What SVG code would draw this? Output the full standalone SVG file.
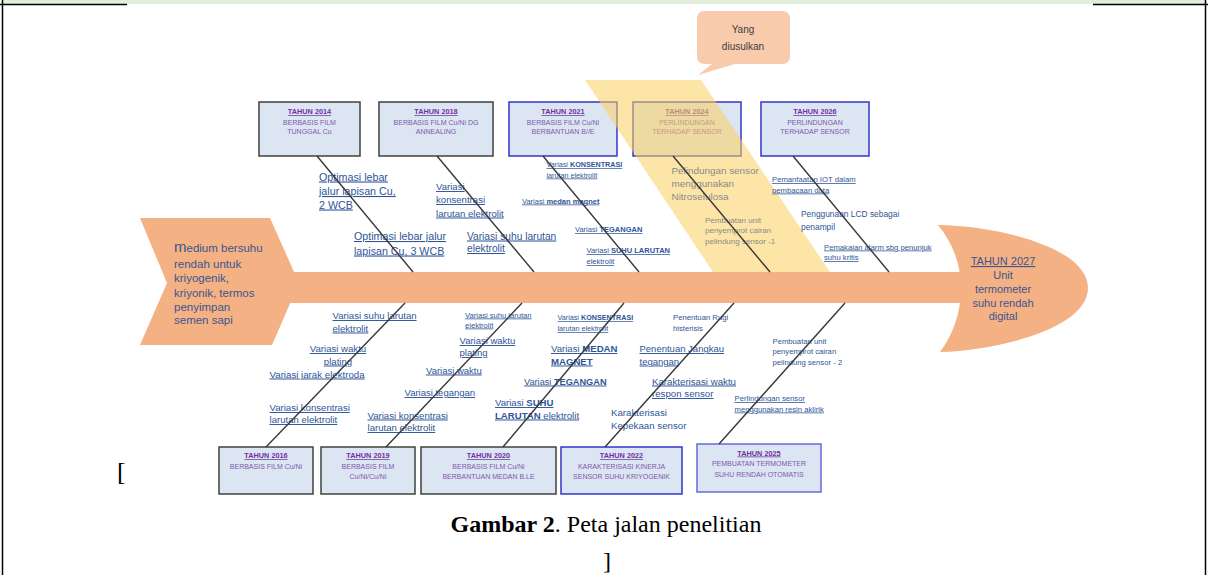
<svg xmlns="http://www.w3.org/2000/svg" width="1208" height="575" viewBox="0 0 1208 575">
<style>
text { font-family: "Liberation Sans", Arial, sans-serif; }
.box { fill:#dce6f2; stroke:#404040; stroke-width:1.5; }
.boxb { fill:#dce6f2; stroke:#3535c8; stroke-width:1.5; }
.boxc { fill:#dce6f2; stroke:#6a6ad8; stroke-width:1.5; }
.bt { font-size:7px; fill:#7f57ad; text-anchor:middle; }
.bh { font-weight:bold; text-decoration:underline; fill:#7030a0; font-size:7.3px; }
.bone { stroke:#383838; stroke-width:1.4; fill:none; }
.fish { fill:#f4b183; }
.lb { fill:#2f5597; text-decoration:underline; }
.nu { fill:#2f5597; }
.gr { fill:#8a8a8a; }
.hd { fill:#3b5591; }
.serif { font-family:"Liberation Serif", "Times New Roman", serif; fill:#000; }
</style>

<!-- page frame -->
<g id="frame">
  <rect x="3" y="0" width="1202" height="4" fill="#e2efda"/>
  <line x1="2.5" y1="0" x2="2.5" y2="575" stroke="#000" stroke-width="1.5"/>
  <line x1="1205.5" y1="0" x2="1205.5" y2="575" stroke="#000" stroke-width="1.5"/>
  <line x1="0" y1="4.5" x2="127" y2="4.5" stroke="#000" stroke-width="1.5"/>
  <line x1="1093" y1="4.5" x2="1208" y2="4.5" stroke="#000" stroke-width="1.5"/>
</g>

<!-- fish body -->
<g id="tail">
  <polygon class="fish" points="140,218 270,218 299,283 272,345 140,345 167,283"/>
  <text class="hd" font-size="11.5"><tspan x="174" y="252"><tspan font-size="15">m</tspan>edium bersuhu</tspan><tspan x="174" y="267.5">rendah untuk</tspan><tspan x="174" y="282">kriyogenik,</tspan><tspan x="174" y="296.5">kriyonik, termos</tspan><tspan x="174" y="310.5">penyimpan</tspan><tspan x="174" y="324">semen sapi</tspan></text>
</g>
<g id="spine">
  <rect class="fish" x="285" y="272" width="678" height="31"/>
</g>
<g id="head">
  <path class="fish" d="M938,225 C1000,226 1088,248 1088,288 C1088,328 1000,350 940,352 C953,335 961,312 961,288 C961,264 952,242 938,225 Z"/>
  <text class="hd" font-size="11" text-anchor="middle"><tspan x="1003" y="265" text-decoration="underline">TAHUN 2027</tspan><tspan x="1003" y="279">Unit</tspan><tspan x="1003" y="292.5">termometer</tspan><tspan x="1003" y="306.5">suhu rendah</tspan><tspan x="1003" y="320">digital</tspan></text>
</g>

<!-- top boxes -->
<g id="box2014">
  <rect class="box" x="259" y="102" width="101" height="54"/>
  <text class="bt"><tspan class="bh" x="309.5" y="114">TAHUN 2014</tspan><tspan x="309.5" y="124.5">BERBASIS  FILM</tspan><tspan x="309.5" y="134">TUNGGAL Cu</tspan></text>
</g>
<g id="box2018">
  <rect class="box" x="379" y="102" width="114" height="54"/>
  <text class="bt"><tspan class="bh" x="436" y="114">TAHUN 2018</tspan><tspan x="436" y="124.5">BERBASIS  FILM Cu/Ni DG</tspan><tspan x="436" y="134">ANNEALING</tspan></text>
</g>
<g id="box2021">
  <rect class="boxb" x="509" y="102" width="108" height="54"/>
  <text class="bt"><tspan class="bh" x="563" y="114">TAHUN 2021</tspan><tspan x="563" y="124.5">BERBASIS  FILM Cu/Ni</tspan><tspan x="563" y="134">BERBANTUAN B//E</tspan></text>
</g>
<g id="box2024">
  <rect class="boxb" x="633" y="102" width="108" height="54"/>
  <text class="bt"><tspan class="bh" x="687" y="114">TAHUN 2024</tspan><tspan x="687" y="124.5">PERLINDUNGAN</tspan><tspan x="687" y="134">TERHADAP SENSOR</tspan></text>
</g>
<g id="box2026">
  <rect class="boxb" x="761" y="102" width="108" height="54"/>
  <text class="bt"><tspan class="bh" x="815" y="114">TAHUN 2026</tspan><tspan x="815" y="124.5">PERLINDUNGAN</tspan><tspan x="815" y="134">TERHADAP SENSOR</tspan></text>
</g>

<!-- highlight band -->
<g id="highlight">
  <polygon points="585,80 701,80 830,272 713,272" fill="#fcd060" fill-opacity="0.55"/>
</g>

<!-- callout -->
<g id="callout">
  <path d="M705,11 H782 Q790,11 790,19 V56 Q790,64 782,64 H735 L698,75 L712,64 H705 Q697,64 697,56 V19 Q697,11 705,11 Z" fill="#f8cbad"/>
  <text font-size="10" fill="#404040" text-anchor="middle"><tspan x="743" y="33">Yang</tspan><tspan x="743" y="49.5">diusulkan</tspan></text>
</g>

<!-- bottom boxes -->
<g id="box2016">
  <rect class="box" x="219" y="447" width="94" height="47"/>
  <text class="bt"><tspan class="bh" x="266" y="458">TAHUN 2016</tspan><tspan x="266" y="468.5">BERBASIS  FILM Cu/Ni</tspan></text>
</g>
<g id="box2019">
  <rect class="box" x="321" y="447" width="94" height="47"/>
  <text class="bt"><tspan class="bh" x="368" y="458">TAHUN 2019</tspan><tspan x="368" y="468.5">BERBASIS  FILM</tspan><tspan x="368" y="479">Cu/Ni/Cu/Ni</tspan></text>
</g>
<g id="box2020">
  <rect class="box" x="421" y="447" width="135" height="47"/>
  <text class="bt"><tspan class="bh" x="488.5" y="458">TAHUN 2020</tspan><tspan x="488.5" y="468.5">BERBASIS  FILM Cu/Ni</tspan><tspan x="488.5" y="479">BERBANTUAN MEDAN B.LE</tspan></text>
</g>
<g id="box2022">
  <rect class="boxb" x="561" y="447" width="121" height="47"/>
  <text class="bt"><tspan class="bh" x="621.5" y="458">TAHUN 2022</tspan><tspan x="621.5" y="468.5">KARAKTERISASI KINERJA</tspan><tspan x="621.5" y="479">SENSOR SUHU KRIYOGENIK</tspan></text>
</g>
<g id="box2025">
  <rect class="boxc" x="697" y="444" width="124" height="48"/>
  <text class="bt"><tspan class="bh" x="759" y="455.5">TAHUN 2025</tspan><tspan x="759" y="466">PEMBUATAN TERMOMETER</tspan><tspan x="759" y="476.5">SUHU RENDAH OTOMATIS</tspan></text>
</g>

<!-- labels -->
<g id="labels">
  <text class="lb" font-size="10.7"><tspan x="319" y="180.5">Optimasi lebar</tspan><tspan x="319" y="195">jalur lapisan Cu,</tspan><tspan x="319" y="208.5">2 WCB</tspan></text>
  <text class="lb" font-size="10.7"><tspan x="354" y="240">Optimasi lebar jalur</tspan><tspan x="354" y="254.5">lapisan Cu, 3 WCB</tspan></text>
  <text class="lb" font-size="9.6"><tspan x="436" y="190">Variasi</tspan><tspan x="436" y="203">konsentrasi</tspan><tspan x="436" y="216.5">larutan  elektrolit</tspan></text>
  <text class="lb" font-size="10.2"><tspan x="467" y="239.5">Variasi suhu larutan</tspan><tspan x="467" y="252">elektrolit</tspan></text>
  <text class="lb" font-size="7.2"><tspan x="546.5" y="167">Variasi <tspan font-weight="bold">KONSENTRASI</tspan></tspan><tspan x="546.5" y="177.5">larutan  elektrolit</tspan></text>
  <text class="lb" font-size="7.5" x="522" y="203.5">Variasi <tspan font-weight="bold">medan magnet</tspan></text>
  <text class="lb" font-size="7.5" x="575" y="232">Variasi <tspan font-weight="bold">TEGANGAN</tspan></text>
  <text class="lb" font-size="7.5"><tspan x="586.5" y="253">Variasi <tspan font-weight="bold">SUHU LARUTAN</tspan></tspan><tspan x="586.5" y="264">elektrolit</tspan></text>
  <text class="gr" font-size="9.9"><tspan x="671.5" y="173.5">Pelindungan sensor</tspan><tspan x="671.5" y="186.5">menggunakan</tspan><tspan x="671.5" y="199.5">Nitroselulosa</tspan></text>
  <text class="gr" font-size="8"><tspan x="705" y="222.5">Pembuatan unit</tspan><tspan x="705" y="233">penyemprot cairan</tspan><tspan x="705" y="243.5">pelindung sensor -1</tspan></text>
  <text class="lb" font-size="7.7"><tspan x="772" y="182">Pemanfaatan IOT dalam</tspan><tspan x="772" y="192.5">pembacaan data</tspan></text>
  <text class="nu" font-size="8.4" fill="#1f3a8a"><tspan x="801" y="217">Penggunaan LCD sebagai</tspan><tspan x="801" y="230">penampil</tspan></text>
  <text class="lb" font-size="7.7"><tspan x="824" y="249.5">Pemakaian alarm sbg penunjuk</tspan><tspan x="824" y="260">suhu kritis</tspan></text>

  <text class="lb" font-size="9.6"><tspan x="332.5" y="319">Variasi suhu larutan</tspan><tspan x="332.5" y="331.5">elektrolit</tspan></text>
  <text class="lb" font-size="9.6" text-anchor="middle"><tspan x="338" y="352">Variasi waktu</tspan><tspan x="338" y="364.5">plating</tspan></text>
  <text class="lb" font-size="9.7" x="269.5" y="377.5">Variasi jarak elektroda</text>
  <text class="lb" font-size="9.6"><tspan x="269.5" y="411">Variasi konsentrasi</tspan><tspan x="269.5" y="423">larutan  elektrolit</tspan></text>
  <text class="lb" font-size="9.6"><tspan x="367.5" y="418.5">Variasi konsentrasi</tspan><tspan x="367.5" y="431">larutan  elektrolit</tspan></text>
  <text class="lb" font-size="7.6"><tspan x="465" y="317.5">Variasi suhu larutan</tspan><tspan x="465" y="327.5">elektrolit</tspan></text>
  <text class="lb" font-size="9.5"><tspan x="459.5" y="344">Variasi waktu</tspan><tspan x="459.5" y="356">plating</tspan></text>
  <text class="lb" font-size="9.5" x="426" y="373.5">Variasi waktu</text>
  <text class="lb" font-size="9.5" x="404.5" y="396">Variasi tegangan</text>
  <text class="lb" font-size="9.6"><tspan x="495" y="406">Variasi <tspan font-weight="bold">SUHU</tspan></tspan><tspan x="495" y="418.5"><tspan font-weight="bold">LARUTAN</tspan> elektrolit</tspan></text>
  <text class="lb" font-size="7.2"><tspan x="557.5" y="320">Variasi <tspan font-weight="bold">KONSENTRASI</tspan></tspan><tspan x="557.5" y="331">larutan  elektrolit</tspan></text>
  <text class="lb" font-size="9.6"><tspan x="551" y="352">Variasi <tspan font-weight="bold">MEDAN</tspan></tspan><tspan x="551" y="364.5" font-weight="bold">MAGNET</tspan></text>
  <text class="lb" font-size="9.2" x="524" y="384.5">Variasi <tspan font-weight="bold">TEGANGAN</tspan></text>
  <text class="nu" font-size="7.7"><tspan x="673" y="320">Penentuan Rugi</tspan><tspan x="673" y="330.5">histerisis</tspan></text>
  <text class="lb" font-size="9.5"><tspan x="639.5" y="352">Penentuan Jangkau</tspan><tspan x="639.5" y="364.5">tegangan</tspan></text>
  <text class="lb" font-size="9.7"><tspan x="652" y="384.5">Karakterisasi waktu</tspan><tspan x="652" y="397">respon sensor</tspan></text>
  <text class="nu" font-size="9.7"><tspan x="611" y="415.5">Karakterisasi</tspan><tspan x="611" y="428.5">Kepekaan sensor</tspan></text>
  <text class="nu" font-size="7.7"><tspan x="772.5" y="343.5">Pembuatan unit</tspan><tspan x="772.5" y="354">penyemprot cairan</tspan><tspan x="772.5" y="364.5">pelindung sensor - 2</tspan></text>
  <text class="lb" font-size="7.7"><tspan x="734.5" y="401">Perlindungan sensor</tspan><tspan x="734.5" y="411.5">menggunakan resin aklirik</tspan></text>
</g>

<!-- connectors (bones) -->
<g id="connectors">
  <line class="bone" x1="317" y1="156" x2="413" y2="272"/>
  <line class="bone" x1="437" y1="156" x2="534" y2="272"/>
  <line class="bone" x1="543" y1="156" x2="639" y2="272"/>
  <line class="bone" x1="673" y1="156" x2="770" y2="272"/>
  <line class="bone" x1="793" y1="156" x2="889" y2="272"/>
  <line class="bone" x1="405" y1="303" x2="266" y2="447"/>
  <line class="bone" x1="522" y1="303" x2="386" y2="447"/>
  <line class="bone" x1="624" y1="303" x2="503" y2="447"/>
  <line class="bone" x1="734" y1="303" x2="605" y2="447"/>
  <line class="bone" x1="845" y1="303" x2="719" y2="444"/>
</g>

<!-- caption -->
<g id="caption">
  <text class="serif" font-size="26" x="117" y="480">[</text>
  <text class="serif" font-size="24" x="606" y="532" text-anchor="middle"><tspan font-weight="bold">Gambar 2</tspan>. Peta jalan penelitian</text>
  <text class="serif" font-size="24" x="603" y="569">]</text>
</g>
</svg>
